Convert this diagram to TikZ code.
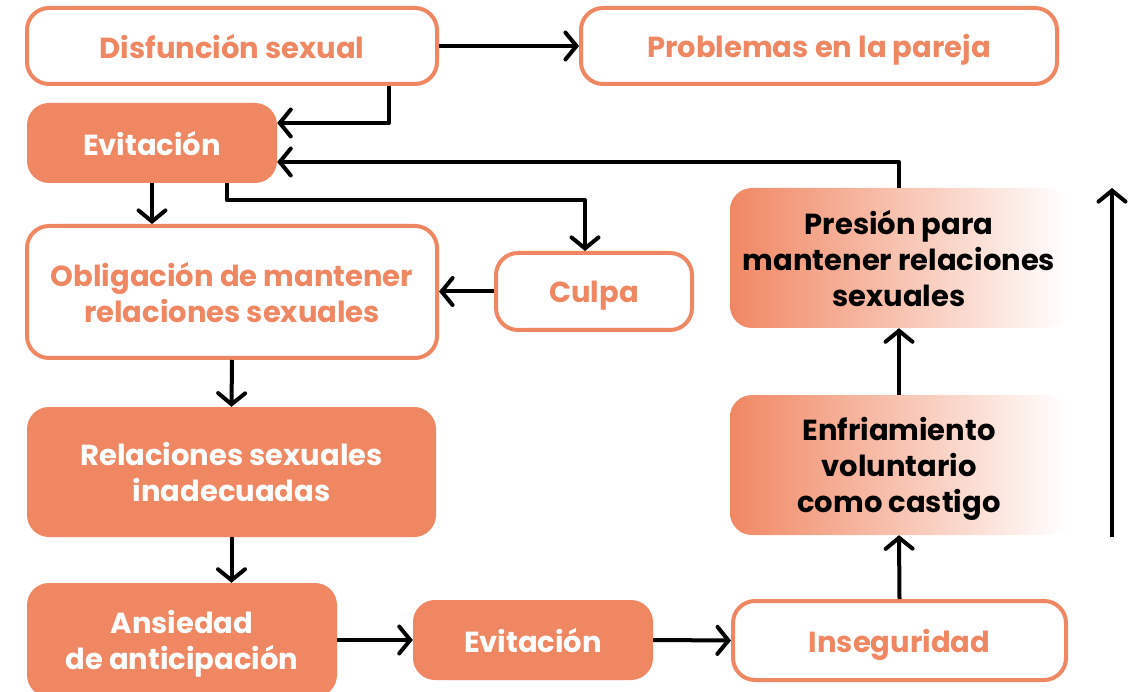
\documentclass[tikz,border=0pt]{standalone}
\usepackage{fontspec}
\setmainfont{Poppins}
\usetikzlibrary{arrows.meta}
\definecolor{coral}{RGB}{240,135,99}
\begin{document}
\begin{tikzpicture}[x=1pt,y=-1pt,
  box/.style={rounded corners=22pt, inner sep=0pt, align=center, text depth=0pt, font=\bfseries\fontsize{29}{36}\selectfont},
  outl/.style={box, draw=coral, line width=4pt, fill=white, text=coral},
  filled/.style={box, fill=coral, text=white},
  grad/.style={box, left color=coral, right color=white, text=black},
  conn/.style={line width=4pt, line join=round, -{Straight Barb[length=11pt,width=27pt,line cap=round]}}
]
\useasboundingbox (0,0) rectangle (1148,692);
\node[outl, minimum width=410pt, minimum height=76pt] (dis) at (232,46) {Disfunción sexual};
\node[outl, minimum width=476pt, minimum height=76pt] (prob) at (819,46) {Problemas en la pareja};
\node[filled, minimum width=250pt, minimum height=80pt] (ev1) at (152,143) {Evitación};
\node[outl, minimum width=410pt, minimum height=132pt] (obl) at (232,292) {Obligación de mantener\\relaciones sexuales};
\node[outl, minimum width=196pt, minimum height=77pt] (culpa) at (594,291.5) {Culpa};
\node[filled, minimum width=409pt, minimum height=130pt] (rel) at (231.5,472) {Relaciones sexuales\\inadecuadas};
\node[filled, minimum width=310pt, minimum height=114pt] (ans) at (182,640) {Ansiedad\\de anticipación};
\node[filled, minimum width=240pt, minimum height=80pt] (ev2) at (533,640) {Evitación};
\node[outl, minimum width=333pt, minimum height=79pt] (ins) at (899.5,640.5) {Inseguridad};
\node[grad, minimum width=338pt, minimum height=140pt] (enf) at (899,465) {Enfriamiento\\voluntario\\como castigo};
\node[grad, minimum width=338pt, minimum height=140pt] (pres) at (899,258) {Presión para\\mantener relaciones\\sexuales};

\draw[conn] (dis.east) -- (prob.west);
\draw[conn] ([xshift=157pt]dis.south) |- ([yshift=20pt]ev1.east);
\draw[conn] (pres.north) |- ([yshift=-19pt]ev1.east);
\draw[conn] (ev1.south) -- (ev1.south |- obl.north);
\draw[conn] ([xshift=75pt]ev1.south) -- ++(0,17) -| ([xshift=-9pt]culpa.north);
\draw[conn] (culpa.west) -- (obl.east |- culpa.west);
\draw[conn] (obl.south) -- (rel.north);
\draw[conn] (rel.south) -- (ans.north -| rel.south);
\draw[conn] (ans.east |- ev2.west) -- (ev2.west);
\draw[conn] (ev2.east) -- (ins.west);
\draw[conn] (ins.north) -- (enf.south);
\draw[conn] (enf.north) -- (pres.south);
\coordinate (fa) at (1112,537);
\coordinate (fb) at (1112,188);
\draw[conn] (fa) -- (fb);
\end{tikzpicture}
\end{document}
